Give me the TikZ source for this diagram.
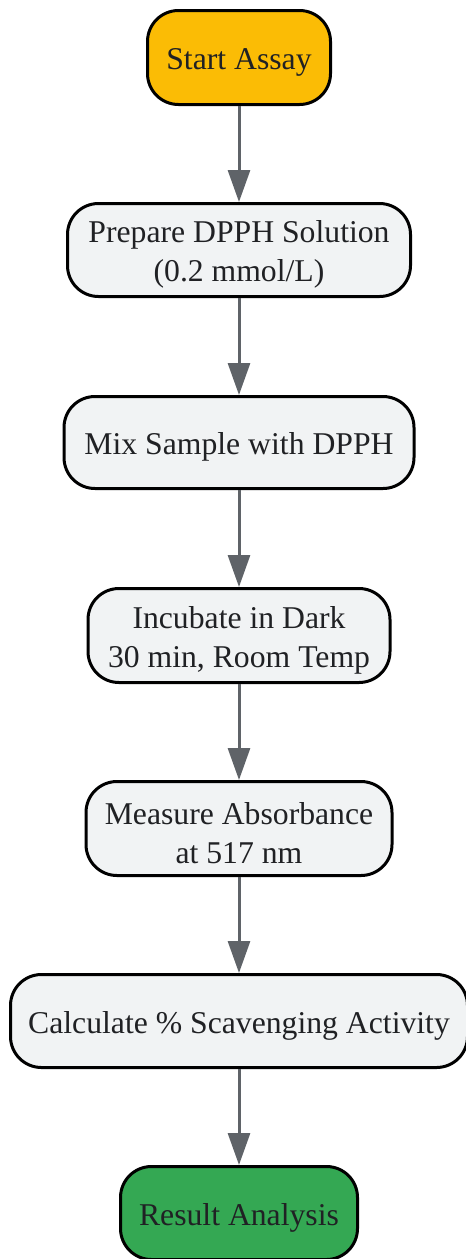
\documentclass[tikz,border=0pt]{standalone}
\usepackage{fontspec}
\setmainfont{Liberation Serif}
\usetikzlibrary{arrows.meta}
\definecolor{startc}{HTML}{FBBC05}
\definecolor{endc}{HTML}{34A853}
\definecolor{stepc}{HTML}{F1F3F4}
\definecolor{arrowc}{HTML}{5F6368}
\definecolor{textc}{HTML}{202124}
\tikzset{
  box/.style={draw=black, line width=3pt, rounded corners=31pt, fill=stepc, inner sep=0pt},
  boxtext/.style={text=textc, align=center, inner sep=0pt, yshift=-4.5pt,
    font=\fontsize{31.7}{38.8}\selectfont},
  flow/.style={draw=arrowc, line width=3pt,
    -{Triangle[width=22pt,length=32pt]}, fill=arrowc}
}
\begin{document}
\begin{tikzpicture}[x=1pt,y=-1pt]
\useasboundingbox (0,0) rectangle (466,1259);
\node[box, fill=startc, minimum width=183pt, minimum height=94pt,
  label={[boxtext]center:Start Assay}] (n1) at (239,57.5) {};
\node[box, minimum width=343pt, minimum height=93pt,
  label={[boxtext]center:{Prepare DPPH Solution\\(0.2 mmol/L)}}] (n2) at (239,250) {};
\node[box, minimum width=350pt, minimum height=92pt,
  label={[boxtext]center:Mix Sample with DPPH}] (n3) at (239,442.5) {};
\node[box, minimum width=302pt, minimum height=94pt,
  label={[boxtext]center:{Incubate in Dark\\30 min, Room Temp}}] (n4) at (239,635.5) {};
\node[box, minimum width=306pt, minimum height=94pt,
  label={[boxtext]center:{Measure Absorbance\\at 517 nm}}] (n5) at (239,828.5) {};
\node[box, minimum width=457pt, minimum height=93pt,
  label={[boxtext]center:Calculate \% Scavenging Activity}] (n6) at (239,1021) {};
\node[box, fill=endc, minimum width=237pt, minimum height=93pt,
  label={[boxtext]center:Result Analysis}] (n7) at (239,1213) {};
\draw[flow] (n1) -- (n2);
\draw[flow] (n2) -- (n3);
\draw[flow] (n3) -- (n4);
\draw[flow] (n4) -- (n5);
\draw[flow] (n5) -- (n6);
\draw[flow] (n6) -- (n7);
\end{tikzpicture}
\end{document}
